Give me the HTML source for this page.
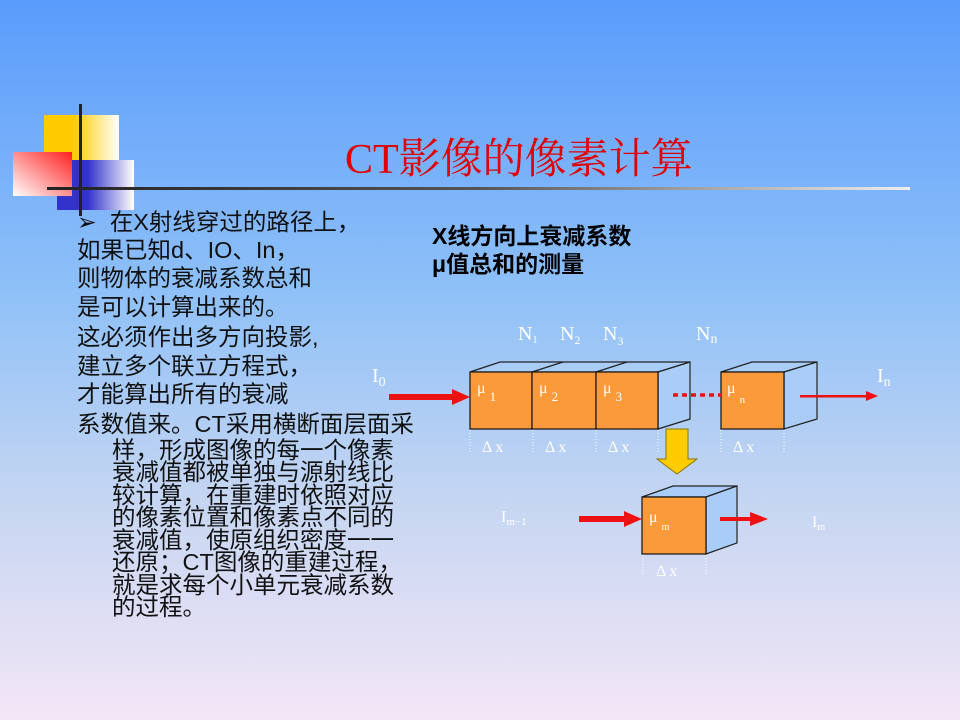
<!DOCTYPE html>
<html><head><meta charset="utf-8"><style>
body{margin:0;width:960px;height:720px;overflow:hidden;position:relative;
background:linear-gradient(to bottom,#5a9cfc 0%,#8ec0f8 40%,#c6d6f2 70%,#f4e6f6 100%);
font-family:"Liberation Sans","Noto Sans CJK SC",sans-serif;}
.t{position:absolute;font-size:23.5px;line-height:24px;color:#111;white-space:nowrap;}
</style></head><body>
<div style="position:absolute;left:44px;top:115px;width:75px;height:60px;background:linear-gradient(to right,#ffcc00 40%,#fff)"></div>
<div style="position:absolute;left:57px;top:160px;width:77px;height:50px;background:linear-gradient(to right,#3333cc 40%,#fff)"></div>
<div style="position:absolute;left:13px;top:152px;width:59px;height:44px;background:linear-gradient(to bottom left,#ff2020,#fff)"></div>
<div style="position:absolute;left:79px;top:104px;width:3px;height:112px;background:#222"></div>
<div style="position:absolute;left:47px;top:187px;width:863px;height:3px;background:linear-gradient(to right,#222 0%,#555 50%,#eee 100%)"></div>
<div style="position:absolute;left:345px;top:136px;font-family:'Liberation Serif','Noto Serif CJK SC',serif;font-size:42px;color:#e00000;line-height:48px">CT影像的像素计算</div>

<div class="t" style="left:77px;top:210px">➢&nbsp;&nbsp;在X射线穿过的路径上，</div>
<div class="t" style="left:77px;top:238px">如果已知d、IO、In，</div>
<div class="t" style="left:77px;top:266px">则物体的衰减系数总和</div>
<div class="t" style="left:77px;top:295px">是可以计算出来的。</div>
<div class="t" style="left:77px;top:325px">这必须作出多方向投影,</div>
<div class="t" style="left:77px;top:354px">建立多个联立方程式，</div>
<div class="t" style="left:77px;top:382px">才能算出所有的衰减</div>
<div class="t" style="left:77px;top:412px">系数值来。CT采用横断面层面采</div>
<div class="t" style="left:112px;top:438px">样，形成图像的每一个像素</div>
<div class="t" style="left:112px;top:460px">衰减值都被单独与源射线比</div>
<div class="t" style="left:112px;top:483px">较计算，在重建时依照对应</div>
<div class="t" style="left:112px;top:505px">的像素位置和像素点不同的</div>
<div class="t" style="left:112px;top:528px">衰减值，使原组织密度一一</div>
<div class="t" style="left:112px;top:550px">还原；CT图像的重建过程，</div>
<div class="t" style="left:112px;top:573px">就是求每个小单元衰减系数</div>
<div class="t" style="left:112px;top:595px">的过程。</div>

<div style="position:absolute;left:432px;top:222px;font-size:23px;font-weight:bold;line-height:28px;color:#000">X线方向上衰减系数<br>μ值总和的测量</div>

<svg width="960" height="720" style="position:absolute;left:0;top:0" font-family="Liberation Serif,serif">
<g fill="#fff" font-size="20">
<text x="518" y="340">N<tspan font-size="10" dy="3">1</tspan></text>
<text x="560" y="340">N<tspan font-size="12" dy="4">2</tspan></text>
<text x="603" y="340">N<tspan font-size="12" dy="5">3</tspan></text>
<text x="696" y="340">N<tspan font-size="14" dy="3">n</tspan></text>
<text x="372" y="382">I<tspan font-size="14" dy="4">0</tspan></text>
<text x="877" y="382">I<tspan font-size="14" dy="4">n</tspan></text>
<text x="501" y="522" font-size="16">I<tspan font-size="11" dy="3">m−1</tspan></text>
<text x="812" y="527" font-size="16">I<tspan font-size="10" dy="3">m</tspan></text>
</g>
<g stroke="#222" stroke-width="1.2" fill="#a9cdf6">
<polygon points="470,372 500,362 690,362 658,372"/>
<polygon points="658,372 690,362 690,419 658,429"/>
<line x1="532" y1="372" x2="563" y2="362"/><line x1="596" y1="372" x2="627" y2="362"/>
<polygon points="721,372 752,362 817,362 784,372"/>
<polygon points="784,372 817,362 817,419 784,429"/>
<polygon points="642,497 673,486 737,486 706,497"/>
<polygon points="706,497 737,486 737,543 706,554"/>
</g>
<g stroke="#111" stroke-width="1.2" fill="#fb9a3a">
<rect x="470" y="372" width="62" height="57"/><rect x="532" y="372" width="64" height="57"/>
<rect x="596" y="372" width="62" height="57"/><rect x="721" y="372" width="63" height="57"/>
<rect x="642" y="497" width="64" height="57"/>
</g>
<g fill="#fff" font-size="16">
<text x="477" y="393">μ <tspan font-size="13" dy="8">1</tspan></text>
<text x="539" y="393">μ <tspan font-size="13" dy="8">2</tspan></text>
<text x="603" y="393">μ <tspan font-size="13" dy="8">3</tspan></text>
<text x="727" y="393">μ <tspan font-size="11" dy="10">n</tspan></text>
<text x="649" y="522">μ <tspan font-size="10" dy="8">m</tspan></text>
<g font-size="16"><text x="482" y="452">Δ x</text><text x="545" y="452">Δ x</text><text x="608" y="452">Δ x</text><text x="733" y="452">Δ x</text><text x="656" y="576">Δ x</text></g>
</g>
<g stroke="#fff" stroke-dasharray="1,2" stroke-width="1">
<line x1="470" y1="430" x2="470" y2="452"/><line x1="533" y1="430" x2="533" y2="452"/>
<line x1="596" y1="430" x2="596" y2="452"/><line x1="658" y1="430" x2="658" y2="452"/>
<line x1="721" y1="430" x2="721" y2="452"/><line x1="784" y1="430" x2="784" y2="452"/>
<line x1="643" y1="555" x2="643" y2="576"/><line x1="706" y1="555" x2="706" y2="576"/>
</g>
<g fill="#ee1111" stroke="none">
<rect x="389" y="394" width="64" height="6"/><polygon points="452,389 470,397 452,405"/>
<rect x="800" y="395" width="68" height="2.5"/><polygon points="866,391 878,396 866,401"/>
<rect x="579" y="516" width="46" height="6"/><polygon points="624,511 642,519 624,527"/>
<rect x="720" y="517" width="32" height="4"/><polygon points="750,512 768,519 750,526"/>
</g>
<line x1="673" y1="395" x2="721" y2="395" stroke="#ee1111" stroke-width="3.5" stroke-dasharray="5,4"/>
<polygon points="666,429 688,429 688,459 697,459 677,474 657,459 666,459" fill="#ffcc00" stroke="#887700" stroke-width="1"/>
</svg>
</body></html>
